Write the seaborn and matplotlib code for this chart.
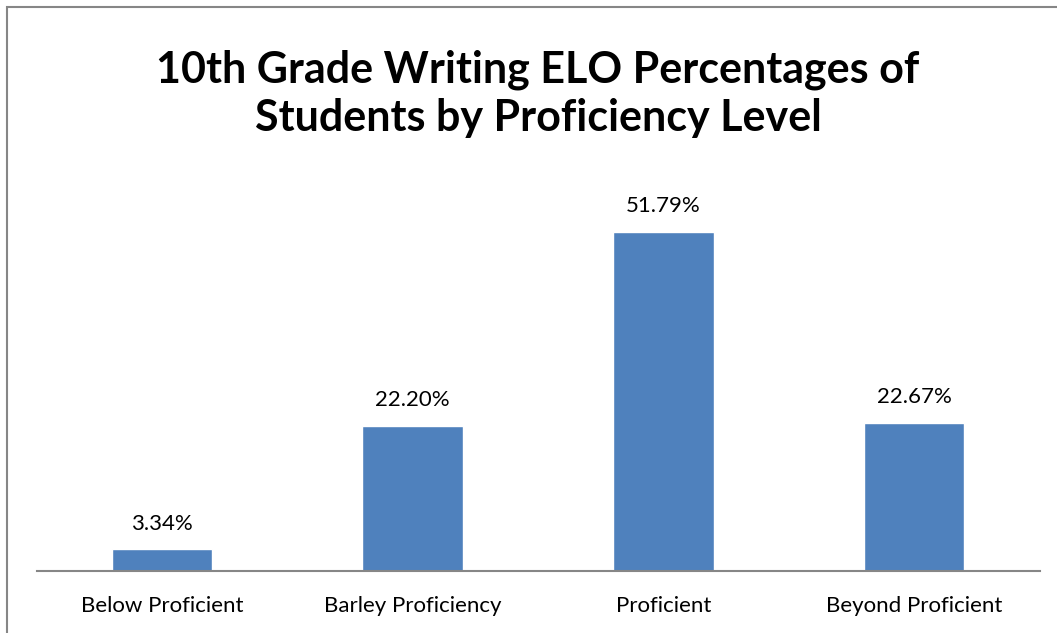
import seaborn as sns
import pandas as pd
import matplotlib.pyplot as plt
from matplotlib.patches import Rectangle

categories = ["Below Proficient", "Barley Proficiency", "Proficient", "Beyond Proficient"]
percentages = [3.34, 22.20, 51.79, 22.67]
title = "10th Grade Writing ELO Percentages of\nStudents by Proficiency Level"


def plotData(df):
    sns.set_style("white")
    plt.rcParams['font.family'] = ['Lato', 'DejaVu Sans']

    fig = plt.figure(figsize=(10.57, 6.33), dpi=100)
    W, H = 1057, 633
    # axes placed in pixel terms: baseline at y=571, spans x 36.5..1039.5
    left, right = 36.5, 1039.5
    bottom, top = 571, 178
    ax = fig.add_axes([left / W, 1 - bottom / H, (right - left) / W, (bottom - top) / H])

    sns.barplot(data=df, x="category", y="pct", color="#4F81BD", width=0.4,
                saturation=1, ax=ax)
    ax.set_ylim(0, 60)
    ax.set_xlim(-0.5, len(categories) - 0.5)

    for i, v in enumerate(df["pct"]):
        ax.annotate(f"{v:.2f}%", (i, v), xytext=(0, 11), textcoords="offset points",
                    ha="center", va="bottom", fontsize=16, color="black")

    ax.set_xlabel("")
    ax.set_ylabel("")
    ax.set_yticks([])
    ax.tick_params(axis="x", length=0, labelsize=16, pad=18, labelcolor="black")
    for s in ["top", "right", "left"]:
        ax.spines[s].set_visible(False)
    ax.spines["bottom"].set_color("#868686")
    ax.spines["bottom"].set_linewidth(1.5)

    fig.text(538 / W, 1 - 94 / H, title, ha="center", va="center",
             fontsize=31, fontweight="bold", linespacing=1.25, color="black")

    # chart border (right and bottom edges fall outside the image)
    fig.patches.append(Rectangle((7 / W, -0.1), 1.2, 1 - 7 / H + 0.1,
                                 transform=fig.transFigure, fill=False,
                                 edgecolor="#868686", linewidth=1.5))

    fig.savefig("out.png", dpi=100)


def main():
    df = pd.DataFrame({"category": categories, "pct": percentages})
    plotData(df)


if __name__ == "__main__":
    main()
